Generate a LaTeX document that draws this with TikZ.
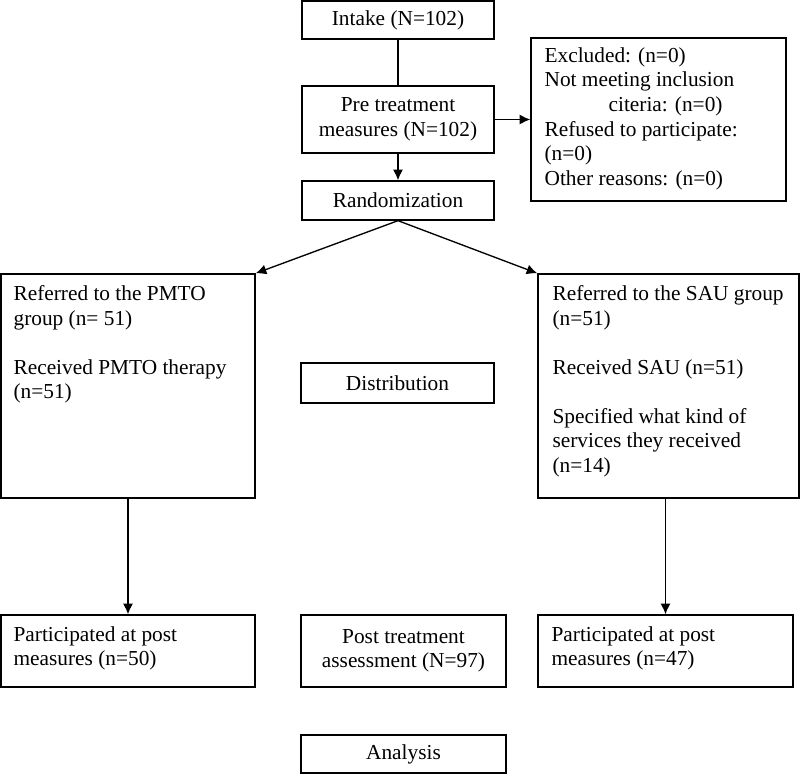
\documentclass[tikz,border=0pt]{standalone}
\usepackage{fontspec}
\setmainfont{Liberation Serif}
\usetikzlibrary{arrows.meta}
\begin{document}
\begin{tikzpicture}[x=0.75pt, y=-0.75pt,
  box/.style={draw, line width=1pt, inner sep=0pt, align=center, font=\fontsize{16}{18.4}\selectfont},
  txt/.style={anchor=north west, inner sep=0pt, align=left, font=\fontsize{16}{18.4}\selectfont},
  arr/.style={-{Latex[length=8pt,width=7.5pt]}, line width=1pt}]

  \useasboundingbox (0,0) rectangle (800,775);

  \node[box, minimum width=144pt, minimum height=28.5pt] (intake) at (398,20) {Intake (N=102)};
  \node[box, minimum width=144pt, minimum height=50.25pt] (pre) at (398,119.5) {Pre treatment\\measures (N=102)};
  \node[box, minimum width=191.25pt, minimum height=122.25pt] (excl) at (658.5,119.5) {};
  \node[txt] (excltxt) at ([shift={(14,10)}]excl.north west)
    {Excluded: (n=0)\\Not meeting inclusion\\\hspace{48pt}citeria: (n=0)\\Refused to participate:\\(n=0)\\Other reasons: (n=0)};
  \node[box, minimum width=144pt, minimum height=29.25pt] (rand) at (398,200.5) {Randomization};

  \node[box, minimum width=190.5pt, minimum height=168pt] (pmto) at (128,386) {};
  \node[txt] (pmtotxt) at ([shift={(13,12)}]pmto.north west)
    {Referred to the PMTO\\group (n= 51)\\[18.4pt]Received PMTO therapy\\(n=51)};
  \node[box, minimum width=144.75pt, minimum height=30pt] (distr) at (397.5,383) {Distribution};
  \node[box, minimum width=195.75pt, minimum height=168pt] (sau) at (668.5,386) {};
  \node[txt] (sautxt) at ([shift={(15,12)}]sau.north west)
    {Referred to the SAU group\\(n=51)\\[18.4pt]Received SAU (n=51)\\[18.4pt]Specified what kind of\\services they received\\(n=14)};

  \node[box, minimum width=190.5pt, minimum height=54pt] (postpmto) at (128,651) {};
  \node[txt] (postpmtotxt) at ([shift={(13,12)}]postpmto.north west) {Participated at post\\measures (n=50)};
  \node[box, minimum width=153.75pt, minimum height=54pt] (post) at (403.5,651) {Post treatment\\assessment (N=97)};
  \node[box, minimum width=191.25pt, minimum height=54pt] (postsau) at (665.5,651) {};
  \node[txt] (postsautxt) at ([shift={(14,12)}]postsau.north west) {Participated at post\\measures (n=47)};
  \node[box, minimum width=153.75pt, minimum height=28.5pt] (analysis) at (403.5,754) {Analysis};

  \draw[line width=1pt] (intake) -- (pre);
  \draw[arr] (pre) -- (excl);
  \draw[arr] (pre) -- (rand);
  \draw[arr] (rand.south) -- (pmto.north east);
  \draw[arr] (rand.south) -- (sau.north west);
  \draw[arr] (pmto) -- (postpmto);
  \draw[arr] (sau.south -| postsau.north) -- (postsau.north);

\end{tikzpicture}
\end{document}
